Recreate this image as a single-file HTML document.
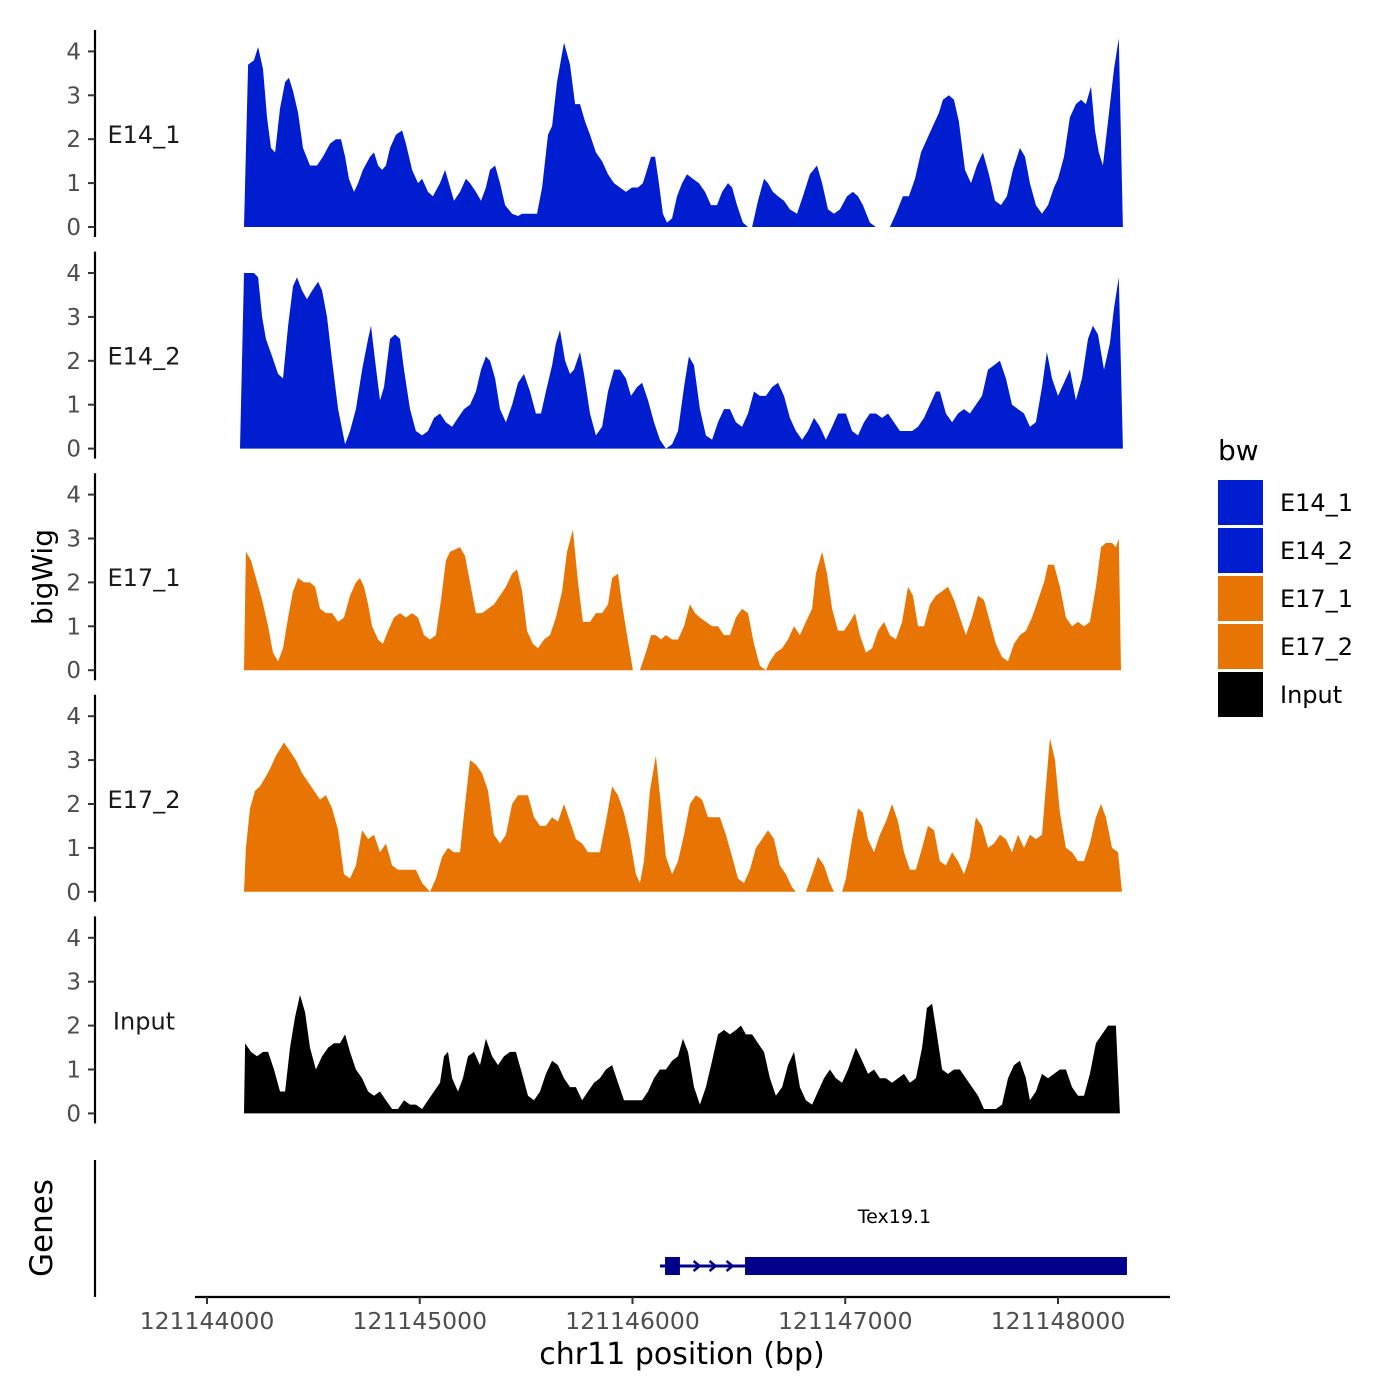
<!DOCTYPE html>
<html><head><meta charset="utf-8">
<style>
html,body{margin:0;padding:0;background:#fff;}
svg{display:block;font-family:"DejaVu Sans","Liberation Sans",sans-serif;}
</style></head>
<body>
<svg id="chart" width="1400" height="1400" viewBox="0 0 1400 1400" xmlns="http://www.w3.org/2000/svg">
<g id="tracks"></g>
<g id="genes"></g>
<g id="xaxis"></g>
<text x="52" y="577" transform="rotate(-90 52 577)" text-anchor="middle" font-size="28" fill="#000">bigWig</text>
<text x="52" y="1228" transform="rotate(-90 52 1228)" text-anchor="middle" font-size="31" fill="#000">Genes</text>
<text x="682" y="1364" text-anchor="middle" font-size="30" fill="#000">chr11 position (bp)</text>
<g id="legend"></g>
</svg>
<script>
// ---- data (positions are bp offsets from chromStart) ----
const chromStart = 121144000;
const trackNames = ["E14_1","E14_2","E17_1","E17_2","Input"];
const trackColors = ["#001ecf","#001ecf","#e87403","#e87403","#000000"];
const yTicks = [0,1,2,3,4];
const xTicks = [121144000,121145000,121146000,121147000,121148000];

const pos1 = [174,193,221,240,263,282,301,320,343,367,385,404,428,451,484,517,545,578,606,630,649,667,691,710,733,766,785,804,823,841,860,888,917,935,964,992,1011,1039,1062,1095,1119,1137,1161,1189,1217,1236,1264,1288,1311,1330,1354,1377,1401,1434,1462,1481,1551,1575,1603,1622,1645,1678,1706,1730,1753,1777,1800,1828,1857,1885,1913,1941,1969,1998,2026,2049,2068,2087,2106,2124,2143,2162,2186,2209,2233,2256,2284,2312,2341,2369,2397,2421,2449,2468,2491,2519,2543,2562,2590,2618,2637,2660,2684,2712,2740,2773,2801,2834,2867,2891,2919,2947,2975,3008,3036,3060,3083,3116,3144,3210,3238,3271,3299,3328,3356,3384,3412,3440,3459,3487,3511,3534,3563,3591,3619,3647,3675,3704,3732,3760,3788,3821,3845,3868,3896,3925,3953,3981,4000,4028,4056,4084,4108,4131,4155,4174,4192,4211,4235,4263,4286,4305];
const val1 = [0,3.7,3.8,4.1,3.6,2.5,1.8,1.7,2.7,3.3,3.4,3.1,2.6,1.8,1.4,1.4,1.6,1.9,2.0,2.0,1.6,1.1,0.8,1.0,1.3,1.6,1.7,1.4,1.3,1.4,1.8,2.1,2.2,1.9,1.3,1.0,1.1,0.8,0.7,1.0,1.3,1.0,0.6,0.8,1.1,1.0,0.8,0.6,0.9,1.3,1.4,1.0,0.5,0.3,0.25,0.3,0.3,0.9,2.1,2.3,3.3,4.2,3.7,2.8,2.8,2.4,2.1,1.7,1.5,1.2,1.0,0.9,0.8,0.9,0.9,1.0,1.3,1.6,1.6,1.0,0.3,0.1,0.2,0.7,1.0,1.2,1.1,1.0,0.8,0.5,0.5,0.8,1.0,0.9,0.5,0.1,0,0,0.6,1.1,1.0,0.8,0.7,0.6,0.4,0.3,0.7,1.2,1.4,1.0,0.4,0.3,0.4,0.7,0.8,0.7,0.5,0.1,0,0,0.3,0.7,0.7,1.1,1.7,2.0,2.3,2.6,2.9,3.0,2.9,2.4,1.3,1.0,1.4,1.7,1.2,0.6,0.5,0.7,1.3,1.8,1.6,1.0,0.5,0.3,0.5,0.9,1.1,1.6,2.5,2.8,2.9,2.8,3.2,2.2,1.7,1.4,2.4,3.6,4.3,0];

const pos2 = [155,174,221,240,259,277,306,334,357,381,404,423,447,470,494,522,541,564,588,616,649,672,700,729,757,771,790,813,832,860,884,907,926,954,982,1011,1039,1067,1095,1123,1152,1180,1208,1236,1264,1288,1311,1330,1354,1377,1405,1434,1462,1490,1518,1546,1570,1593,1622,1640,1659,1683,1706,1725,1753,1772,1800,1828,1857,1885,1913,1941,1969,1993,2021,2045,2073,2101,2129,2157,2186,2214,2242,2265,2289,2317,2345,2374,2402,2430,2458,2486,2515,2543,2571,2599,2627,2656,2684,2712,2740,2768,2797,2825,2853,2881,2909,2938,2966,3003,3032,3060,3088,3116,3144,3173,3201,3229,3257,3314,3342,3370,3398,3426,3445,3473,3502,3530,3558,3586,3614,3643,3671,3699,3727,3755,3784,3812,3840,3868,3896,3925,3948,3972,4000,4028,4056,4084,4113,4141,4164,4188,4216,4244,4263,4286,4305];
const val2 = [0,4.0,4.0,3.9,3.0,2.5,2.1,1.7,1.6,2.8,3.7,3.9,3.6,3.4,3.6,3.8,3.6,3.0,2.0,0.9,0.1,0.4,0.9,1.8,2.5,2.8,2.0,1.1,1.4,2.5,2.6,2.5,1.8,0.9,0.4,0.3,0.4,0.7,0.8,0.6,0.5,0.7,0.9,1.0,1.3,1.8,2.1,2.0,1.6,0.9,0.6,1.0,1.5,1.7,1.3,0.8,0.8,1.3,1.9,2.4,2.7,2.0,1.7,1.8,2.2,1.7,0.8,0.3,0.5,1.3,1.8,1.8,1.6,1.2,1.4,1.5,1.1,0.6,0.2,0,0.1,0.4,1.4,2.1,1.9,0.9,0.3,0.2,0.6,0.9,0.9,0.6,0.5,0.8,1.3,1.2,1.2,1.4,1.5,1.2,0.7,0.4,0.2,0.4,0.7,0.5,0.2,0.5,0.8,0.8,0.4,0.3,0.6,0.8,0.8,0.7,0.8,0.6,0.4,0.4,0.5,0.7,1.0,1.3,1.3,0.8,0.6,0.8,0.9,0.8,1.0,1.2,1.8,1.9,2.0,1.6,1.0,0.9,0.8,0.5,0.6,1.4,2.2,1.6,1.2,1.5,1.8,1.1,1.6,2.5,2.8,2.6,1.8,2.4,3.2,3.9,0];

const pos3 = [174,183,207,230,259,287,310,334,357,381,404,428,456,484,508,531,559,588,616,644,672,700,719,738,757,776,804,827,851,879,907,935,964,992,1020,1048,1076,1100,1123,1142,1189,1213,1236,1264,1293,1321,1349,1377,1405,1434,1457,1481,1504,1532,1556,1584,1612,1640,1669,1692,1720,1744,1767,1800,1828,1857,1885,1904,1932,1951,1974,2002,2035,2063,2087,2110,2134,2157,2186,2214,2242,2270,2294,2317,2345,2374,2402,2430,2458,2486,2515,2543,2571,2599,2627,2646,2674,2703,2731,2759,2787,2815,2844,2862,2891,2914,2938,2966,2994,3022,3046,3069,3097,3126,3154,3182,3210,3238,3267,3295,3318,3342,3370,3398,3426,3455,3483,3511,3539,3567,3596,3624,3652,3680,3708,3737,3765,3793,3821,3849,3878,3906,3934,3953,3981,4009,4037,4066,4094,4122,4150,4178,4202,4225,4254,4272,4286,4296];
const val3 = [0,2.7,2.5,2.1,1.6,1.0,0.4,0.2,0.5,1.2,1.8,2.1,2.0,2.0,1.9,1.4,1.3,1.3,1.1,1.2,1.7,2.0,2.1,1.9,1.5,1.0,0.7,0.6,0.9,1.2,1.3,1.2,1.3,1.2,0.8,0.7,0.8,1.6,2.5,2.7,2.8,2.6,2.0,1.3,1.3,1.4,1.5,1.7,1.9,2.2,2.3,1.8,0.9,0.6,0.5,0.7,0.8,1.2,1.8,2.7,3.2,2.0,1.1,1.1,1.3,1.3,1.5,2.1,2.2,1.5,0.8,0,0,0.4,0.8,0.8,0.7,0.8,0.7,0.7,1.0,1.5,1.3,1.2,1.1,1.0,1.0,0.8,0.8,1.2,1.4,1.3,0.6,0.1,0,0.2,0.4,0.5,0.7,1.0,0.8,1.1,1.4,2.2,2.7,2.2,1.4,0.9,0.9,1.1,1.3,0.8,0.4,0.5,0.9,1.1,0.8,0.7,1.1,1.9,1.7,1.0,1.0,1.5,1.7,1.8,1.9,1.6,1.2,0.8,1.2,1.7,1.6,1.1,0.6,0.3,0.2,0.6,0.8,0.9,1.2,1.6,2.0,2.4,2.4,1.9,1.2,1.0,1.1,1.0,1.1,1.9,2.8,2.9,2.9,2.8,3.0,0];

const pos4 = [174,183,202,226,249,273,296,324,362,390,418,447,475,503,531,559,588,616,644,672,700,729,757,785,813,841,870,898,926,954,982,1011,1048,1076,1105,1133,1161,1189,1213,1236,1264,1293,1321,1349,1377,1405,1434,1462,1509,1537,1565,1593,1622,1650,1678,1706,1734,1763,1791,1847,1875,1904,1932,1960,1988,2016,2035,2054,2082,2110,2129,2157,2186,2214,2242,2270,2298,2327,2355,2383,2411,2439,2468,2496,2524,2552,2580,2609,2637,2665,2693,2721,2750,2768,2815,2844,2872,2900,2928,2947,2985,3003,3032,3060,3083,3107,3135,3163,3191,3220,3248,3276,3304,3332,3361,3389,3417,3445,3473,3502,3530,3558,3586,3614,3643,3671,3699,3727,3755,3784,3812,3840,3868,3896,3925,3943,3962,3986,4009,4037,4066,4094,4122,4150,4178,4202,4225,4254,4282,4301];
const val4 = [0,1.0,1.9,2.3,2.4,2.6,2.8,3.1,3.4,3.2,3.0,2.7,2.5,2.3,2.1,2.2,1.9,1.4,0.4,0.3,0.6,1.4,1.2,1.3,0.9,1.1,0.6,0.5,0.5,0.5,0.5,0.2,0,0.3,0.8,1.0,0.9,0.9,2.0,3.0,2.9,2.7,2.3,1.3,1.1,1.3,2.0,2.2,2.2,1.7,1.5,1.5,1.7,1.6,2.0,1.6,1.2,1.1,0.9,0.9,1.6,2.4,2.2,1.8,1.2,0.4,0.2,0.7,2.3,3.1,2.2,0.8,0.4,0.7,1.3,2.0,2.2,2.1,1.7,1.7,1.7,1.3,0.8,0.3,0.2,0.5,1.0,1.2,1.4,1.2,0.6,0.4,0.1,0,0,0.4,0.8,0.6,0.2,0,0,0.3,1.2,1.9,1.8,1.2,0.9,1.3,1.6,2.0,1.6,0.9,0.5,0.5,1.0,1.5,1.4,0.7,0.6,0.9,0.7,0.4,0.8,1.7,1.5,1.0,1.1,1.3,1.2,0.9,1.3,1.0,1.3,1.2,1.3,2.4,3.5,3.0,1.8,1.0,0.9,0.7,0.7,1.1,1.7,2.0,1.7,1.0,0.9,0];

const pos5 = [174,179,207,235,263,287,315,343,367,390,414,437,461,484,512,541,569,597,625,649,672,700,729,757,785,813,841,870,898,926,954,982,1011,1039,1067,1095,1114,1133,1152,1180,1203,1227,1255,1283,1311,1340,1368,1396,1424,1452,1481,1509,1537,1565,1593,1622,1650,1678,1706,1734,1763,1791,1819,1847,1875,1904,1932,1960,1988,2016,2045,2073,2101,2129,2157,2186,2214,2237,2261,2289,2317,2345,2374,2402,2430,2458,2486,2510,2533,2562,2590,2618,2646,2674,2703,2731,2759,2787,2815,2844,2872,2900,2928,2956,2985,3013,3050,3079,3107,3135,3163,3191,3220,3248,3276,3304,3332,3361,3384,3408,3431,3455,3483,3511,3539,3567,3596,3624,3652,3680,3708,3737,3765,3793,3821,3849,3868,3896,3925,3953,3981,4009,4037,4066,4094,4122,4150,4178,4207,4235,4272,4291];
const val5 = [0,1.6,1.4,1.3,1.4,1.4,1.0,0.5,0.5,1.5,2.2,2.7,2.3,1.5,1.0,1.3,1.5,1.6,1.6,1.8,1.4,1.0,0.8,0.5,0.4,0.5,0.3,0.1,0.1,0.3,0.2,0.2,0.1,0.3,0.5,0.7,1.3,1.4,0.8,0.5,0.8,1.3,1.4,1.1,1.7,1.3,1.1,1.3,1.4,1.4,0.9,0.4,0.3,0.5,0.9,1.2,1.1,0.8,0.6,0.6,0.3,0.5,0.7,0.8,1.0,1.1,0.7,0.3,0.3,0.3,0.3,0.5,0.8,1.0,1.0,1.2,1.3,1.7,1.4,0.6,0.2,0.6,1.2,1.8,1.9,1.8,1.9,2.0,1.8,1.8,1.6,1.4,0.8,0.4,0.6,1.1,1.4,0.6,0.3,0.2,0.5,0.8,1.0,0.8,0.7,1.0,1.5,1.2,0.9,1.0,0.8,0.8,0.7,0.8,0.9,0.7,0.8,1.5,2.4,2.5,1.8,1.0,0.9,1.0,1.0,0.8,0.6,0.4,0.1,0.1,0.1,0.2,0.8,1.1,1.2,0.8,0.3,0.5,0.9,0.8,0.9,1.0,1.0,0.6,0.4,0.4,0.9,1.6,1.8,2.0,2.0,0];

const positions = [pos1,pos2,pos3,pos4,pos5];
const values = [val1,val2,val3,val4,val5];

// gene model (bp offsets)
const geneName = "Tex19.1";
const geneStart = 2129, geneEnd = 4324;
const exonStarts = [2153, 2529];
const exonEnds = [2223, 4324];
const arrowPos = [2306, 2381, 2461];

// ---- scales ----
const xPx = bp => 207 + (bp - chromStart) * 0.21275;
const xOff = off => xPx(chromStart + off);
const panelTop = i => 30 + 221.6 * i;
const yZero = i => 227 + 221.6 * i;
const yPx = (i, v) => yZero(i) - v * 43.9;
const NS = "http://www.w3.org/2000/svg";
function mk(tag, attrs, parent){ const e=document.createElementNS(NS,tag); for(const k in attrs) e.setAttribute(k,attrs[k]); parent.appendChild(e); return e; }

const tracks = document.getElementById('tracks');
trackNames.forEach((name, i) => {
  const g = mk('g', {}, tracks);
  
  
  const ax = mk('line', {x1:95,x2:95,y1:panelTop(i),y2:panelTop(i)+207,stroke:'#000','stroke-width':2.2}, g);
  
  
  yTicks.forEach(t => {
    const y = yPx(i, t);
    const tk = mk('line', {x1:88,x2:95,y1:y,y2:y,stroke:'#333','stroke-width':2}, g);
    
    
    const tl = mk('text', {x:81,y:y+8,'text-anchor':'end','font-size':23,fill:'#4d4d4d'}, g);
    tl.textContent = t;
    
    
  });
  const lbl = mk('text', {x:144,y:panelTop(i)+113,'text-anchor':'middle','font-size':24,fill:'#1a1a1a'}, g);
  lbl.textContent = name;
  
  
  const ps = positions[i], vs = values[i];
  let d = 'M' + xOff(ps[0]).toFixed(1) + ',' + yZero(i);
  for (let k = 0; k < ps.length; k++) d += 'L' + xOff(ps[k]).toFixed(1) + ',' + yPx(i, vs[k]).toFixed(1);
  d += 'L' + xOff(ps[ps.length-1]).toFixed(1) + ',' + yZero(i) + 'Z';
  const area = mk('path', {d:d, fill:trackColors[i]}, g);
  
  
});

// gene track
const gg = document.getElementById('genes');
const gax = mk('line', {x1:95,x2:95,y1:1160,y2:1297,stroke:'#000','stroke-width':2.2}, gg);


const gy = 1266;
const intr = mk('line', {x1:xOff(geneStart),x2:xOff(geneEnd),y1:gy,y2:gy,stroke:'#00008b','stroke-width':3}, gg);


exonStarts.forEach((s, k) => {
  const r = mk('rect', {x:xOff(s),y:gy-9,width:xOff(exonEnds[k])-xOff(s),height:18,fill:'#00008b'}, gg);
  
  
});
arrowPos.forEach(p => {
  const x = xOff(p);
  const a = mk('path', {d:`M${x-4},${gy-5}L${x+2},${gy}L${x-4},${gy+5}`,stroke:'#00008b','stroke-width':2.5,fill:'none'}, gg);
  
  
});
const gl = mk('text', {x:(xOff(geneStart)+xOff(geneEnd))/2 + 1,y:1223,'text-anchor':'middle','font-size':19,fill:'#000'}, gg);
gl.textContent = geneName;



// x axis
const xa = document.getElementById('xaxis');
const xl = mk('line', {x1:195,x2:1170,y1:1297,y2:1297,stroke:'#000','stroke-width':2.2}, xa);


xTicks.forEach(t => {
  const x = xPx(t);
  const tk = mk('line', {x1:x,x2:x,y1:1297,y2:1304,stroke:'#333','stroke-width':2}, xa);
  
  
  const tl = mk('text', {x:x,y:1329,'text-anchor':'middle','font-size':23.5,fill:'#4d4d4d'}, xa);
  tl.textContent = t;
  
  
});

// legend
const lg = document.getElementById('legend');
const lt = mk('text', {x:1218,y:460,'font-size':28,fill:'#000'}, lg);
lt.textContent = 'bw';


trackNames.forEach((name, i) => {
  const y = 480 + 48 * i;
  const e = mk('g', {}, lg);
  
  
  const sw = mk('rect', {x:1218,y:y,width:45,height:45,fill:trackColors[i]}, e);
  
  
  const tx = mk('text', {x:1280,y:y+31,'font-size':24,fill:'#000'}, e);
  tx.textContent = name;
  
  
});
</script>
</body></html>
